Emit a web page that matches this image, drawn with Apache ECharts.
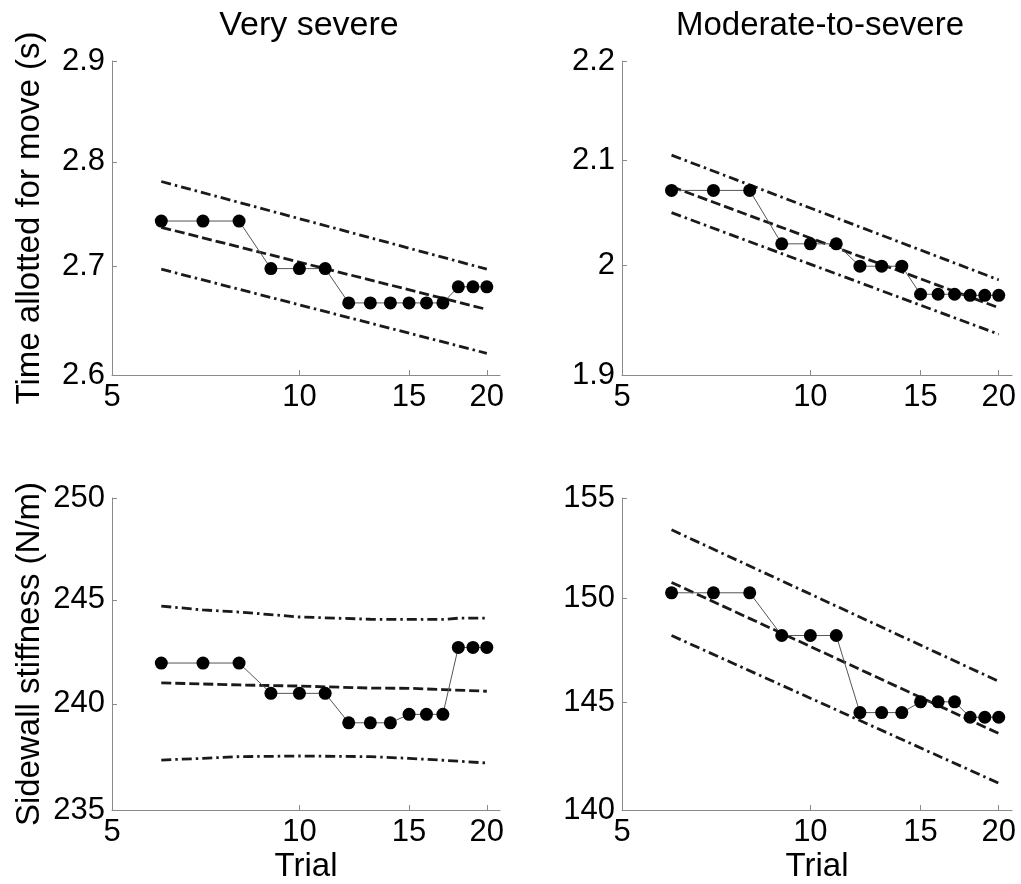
<!DOCTYPE html>
<html><head><meta charset="utf-8">
<script src="https://cdn.jsdelivr.net/npm/echarts@6/dist/echarts.min.js"></script>
<style>html,body{margin:0;padding:0;background:#fff}#c{width:1021px;height:884px}</style>
</head><body><div id="c"></div>
<script>
// ---- data ----
const trials = [6,7,8,9,10,11,12,13,14,15,16,17,18,19,20];
const xTicks = [5,10,15,20];

// Time allotted for move (s)
const timeVS = [2.743,2.743,2.743,2.698,2.698,2.698,2.666,2.666,2.666,2.666,2.666,2.666,2.681,2.681,2.681];
const timeMS = [2.071,2.071,2.071,2.020,2.020,2.020,1.999,1.999,1.999,1.973,1.973,1.973,1.972,1.972,1.972];
// Sidewall stiffness (N/m)
const stiffVS = [241.95,241.95,241.95,240.5,240.5,240.5,239.1,239.1,239.1,239.5,239.5,239.5,242.7,242.7,242.7];
const stiffMS = [150.28,150.28,150.28,148.2,148.2,148.2,144.52,144.52,144.52,145.03,145.03,145.03,144.3,144.3,144.3];

// fitted mean and band lines (trial, value)
const bandTrialsEnds = [6,20];
const timeVSMean  = [2.737,2.660];
const timeVSUpper = [2.781,2.6975];
const timeVSLower = [2.6975,2.6197];
const timeMSMean  = [2.0746,1.9606];
const timeMSUpper = [2.1054,1.9863];
const timeMSLower = [2.0496,1.9365];
const stiffMSMean  = [150.79,143.54];
const stiffMSUpper = [153.4,146.0];
const stiffMSLower = [148.2,141.23];

const stiffVSMeanTrials  = [6,8,10,13,15,17,20];
const stiffVSMean        = [241.0,240.9,240.85,240.75,240.74,240.68,240.6];
const stiffVSUpperTrials = [6,7,8,10,13,15,17,18,20];
const stiffVSUpper       = [244.70,244.51,244.41,244.17,244.06,244.05,244.05,244.11,244.11];
const stiffVSLowerTrials = [6,7,8,10,13,15,17,20];
const stiffVSLower       = [237.34,237.42,237.5,237.53,237.5,237.42,237.33,237.2];

const yTicksTL = [2.6,2.7,2.8,2.9];
const yTicksTR = [1.9,2,2.1,2.2];
const yTicksBL = [235,240,245,250];
const yTicksBR = [140,145,150,155];

const titles = ['Very severe','Moderate-to-severe'];
const yNames = ['Time allotted for move (s)','Sidewall stiffness (N/m)'];
const xName = 'Trial';

// ---- build ----
const FF = '"Liberation Sans", Arial, Helvetica, sans-serif';
const zip = (xs, ys) => xs.map((x,i)=>[x, ys[i]]);
const axisCol = '#8a8a8a';

function xAx(g, name){
  return {type:'log', logBase:10, gridIndex:g, min:5, max:21,
    axisLine:{show:true, lineStyle:{color:axisCol, width:1}},
    axisTick:{show:true, inside:true, length:5, customValues:xTicks, lineStyle:{color:axisCol}},
    axisLabel:{customValues:xTicks, color:'#000', fontSize:31, fontFamily:FF, margin:7},
    splitLine:{show:false}, minorTick:{show:false}, minorSplitLine:{show:false},
    name:name||'', nameLocation:'middle', nameGap:40,
    nameTextStyle:{color:'#000', fontSize:33, fontFamily:FF}};
}
function yAx(g, ticks, name){
  return {type:'log', logBase:10, gridIndex:g, min:ticks[0], max:ticks[ticks.length-1],
    axisLine:{show:true, lineStyle:{color:axisCol, width:1}},
    axisTick:{show:true, inside:true, length:5, customValues:ticks, lineStyle:{color:axisCol}},
    axisLabel:{customValues:ticks, color:'#000', fontSize:31, fontFamily:FF, margin:7},
    splitLine:{show:false}, minorTick:{show:false}, minorSplitLine:{show:false},
    name:name||'', nameLocation:'middle', nameGap:66, nameRotate:90,
    nameTextStyle:{color:'#000', fontSize:33, fontFamily:FF}};
}
function pts(g, ys){
  return {type:'line', xAxisIndex:g, yAxisIndex:g, data:zip(trials, ys),
    symbol:'circle', symbolSize:13, itemStyle:{color:'#000'},
    lineStyle:{color:'#555', width:1}, z:5, silent:true};
}
function band(g, xs, ys, dashdot){
  return {type:'line', xAxisIndex:g, yAxisIndex:g, data:zip(xs, ys),
    symbol:'none', showSymbol:false,
    lineStyle:{color:'#1a1a1a', width:2.8, type: dashdot ? [10,4,2.5,4] : [10,4]}, z:3, silent:true};
}

const option = {
  animation:false,
  backgroundColor:'#fff',
  title:[
    {text:titles[0], left:304, top:4, textAlign:'center', textStyle:{fontSize:34, fontWeight:'normal', color:'#000', fontFamily:FF}},
    {text:titles[1], left:815, top:4, textAlign:'center', textStyle:{fontSize:33, fontWeight:'normal', color:'#000', fontFamily:FF}}
  ],
  grid:[
    {left:112, top:61, width:388, height:314},
    {left:622, top:61, width:390, height:314},
    {left:112, top:498, width:388, height:314},
    {left:622, top:498, width:390, height:314}
  ],
  xAxis:[xAx(0), xAx(1), xAx(2, xName), xAx(3, xName)],
  yAxis:[yAx(0, yTicksTL, yNames[0]), yAx(1, yTicksTR), yAx(2, yTicksBL, yNames[1]), yAx(3, yTicksBR)],
  series:[
    band(0, bandTrialsEnds, timeVSUpper, true),
    band(0, bandTrialsEnds, timeVSMean, false),
    band(0, bandTrialsEnds, timeVSLower, true),
    pts(0, timeVS),
    band(1, bandTrialsEnds, timeMSUpper, true),
    band(1, bandTrialsEnds, timeMSMean, false),
    band(1, bandTrialsEnds, timeMSLower, true),
    pts(1, timeMS),
    band(2, stiffVSUpperTrials, stiffVSUpper, true),
    band(2, stiffVSMeanTrials, stiffVSMean, false),
    band(2, stiffVSLowerTrials, stiffVSLower, true),
    pts(2, stiffVS),
    band(3, bandTrialsEnds, stiffMSUpper, true),
    band(3, bandTrialsEnds, stiffMSMean, false),
    band(3, bandTrialsEnds, stiffMSLower, true),
    pts(3, stiffMS)
  ]
};
const chart = echarts.init(document.getElementById('c'), null, {renderer:'canvas'});
chart.setOption(option);
</script>
</body></html>
